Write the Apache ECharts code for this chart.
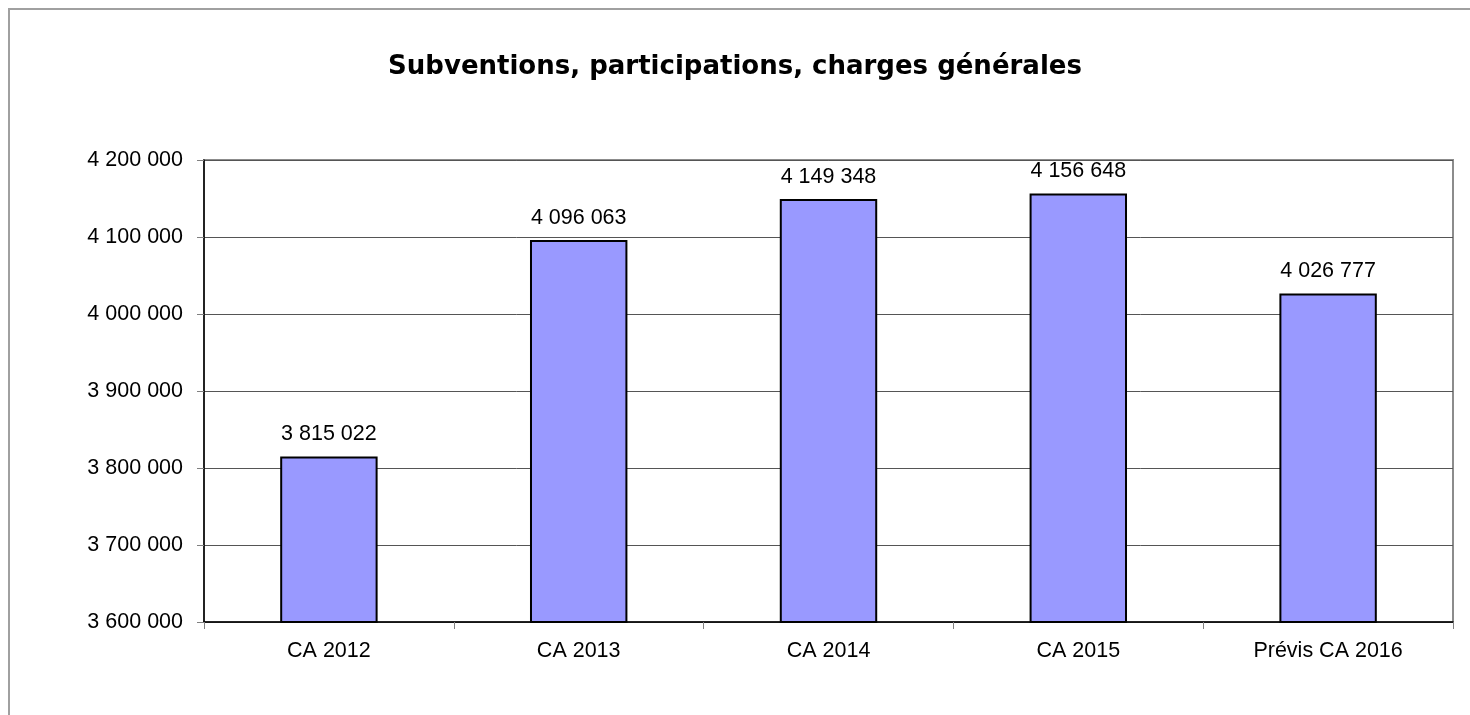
<!DOCTYPE html>
<html>
<head>
<meta charset="utf-8">
<script src="https://cdn.jsdelivr.net/npm/echarts@6/dist/echarts.min.js"></script>
<style>
  html, body { margin: 0; padding: 0; background: #fff; }
  #chart { width: 1470px; height: 715px; }
</style>
</head>
<body>
<div id="chart"></div>
<script>
// Budget categories and amounts (euros)
const categories = ['CA 2012', 'CA 2013', 'CA 2014', 'CA 2015', 'Prévis CA 2016'];
const amounts = [3815022, 4096063, 4149348, 4156648, 4026777];

// Value axis range
const axisMin = 3600000;
const axisMax = 4200000;
const axisStep = 100000;

// French-style thousands separator
function fmt(v) {
  return String(Math.round(v)).replace(/\B(?=(\d{3})+(?!\d))/g, ' ');
}

const chart = echarts.init(document.getElementById('chart'), null, { renderer: 'canvas' });

const textFont = 'Liberation Sans, Arial, sans-serif';
const textSize = 21.5;

chart.setOption({
  animation: false,
  backgroundColor: '#ffffff',
  title: {
    text: 'Subventions, participations, charges générales',
    left: 'center',
    top: 49,
    textStyle: {
      fontFamily: 'DejaVu Sans, Verdana, sans-serif',
      fontWeight: 'bold',
      fontSize: 26,
      color: '#000'
    }
  },
  graphic: [{
    type: 'polyline',
    silent: true,
    shape: { points: [[9, 715], [9, 9], [1470, 9]] },
    style: { stroke: '#a0a0a0', lineWidth: 2, fill: null }
  }],
  grid: {
    left: 204,
    right: 17,
    top: 160,
    bottom: 93,
    show: true,
    borderColor: '#8c8c8c',
    borderWidth: 2,
    backgroundColor: 'transparent'
  },
  xAxis: {
    type: 'category',
    data: categories,
    axisLine: { show: true, lineStyle: { color: '#000', width: 1.5 } },
    axisTick: { show: true, alignWithLabel: false, length: 7, lineStyle: { color: '#808080' } },
    axisLabel: {
      margin: 18,
      fontFamily: textFont,
      fontSize: textSize,
      color: '#000'
    }
  },
  yAxis: {
    type: 'value',
    min: axisMin,
    max: axisMax,
    interval: axisStep,
    axisLine: { show: true, lineStyle: { color: '#000', width: 1.5 } },
    axisTick: { show: true, length: 7, lineStyle: { color: '#808080' } },
    splitLine: { show: true, lineStyle: { color: '#555', width: 1 } },
    axisLabel: {
      margin: 21,
      fontFamily: textFont,
      fontSize: textSize,
      color: '#000',
      formatter: fmt
    }
  },
  series: [{
    type: 'bar',
    data: amounts,
    barWidth: '39%',
    itemStyle: {
      color: '#9999ff',
      borderColor: '#000',
      borderWidth: 2
    },
    label: {
      show: true,
      position: 'top',
      distance: 11,
      fontFamily: textFont,
      fontSize: textSize,
      color: '#000',
      formatter: p => fmt(p.value)
    }
  }]
});
</script>
</body>
</html>
